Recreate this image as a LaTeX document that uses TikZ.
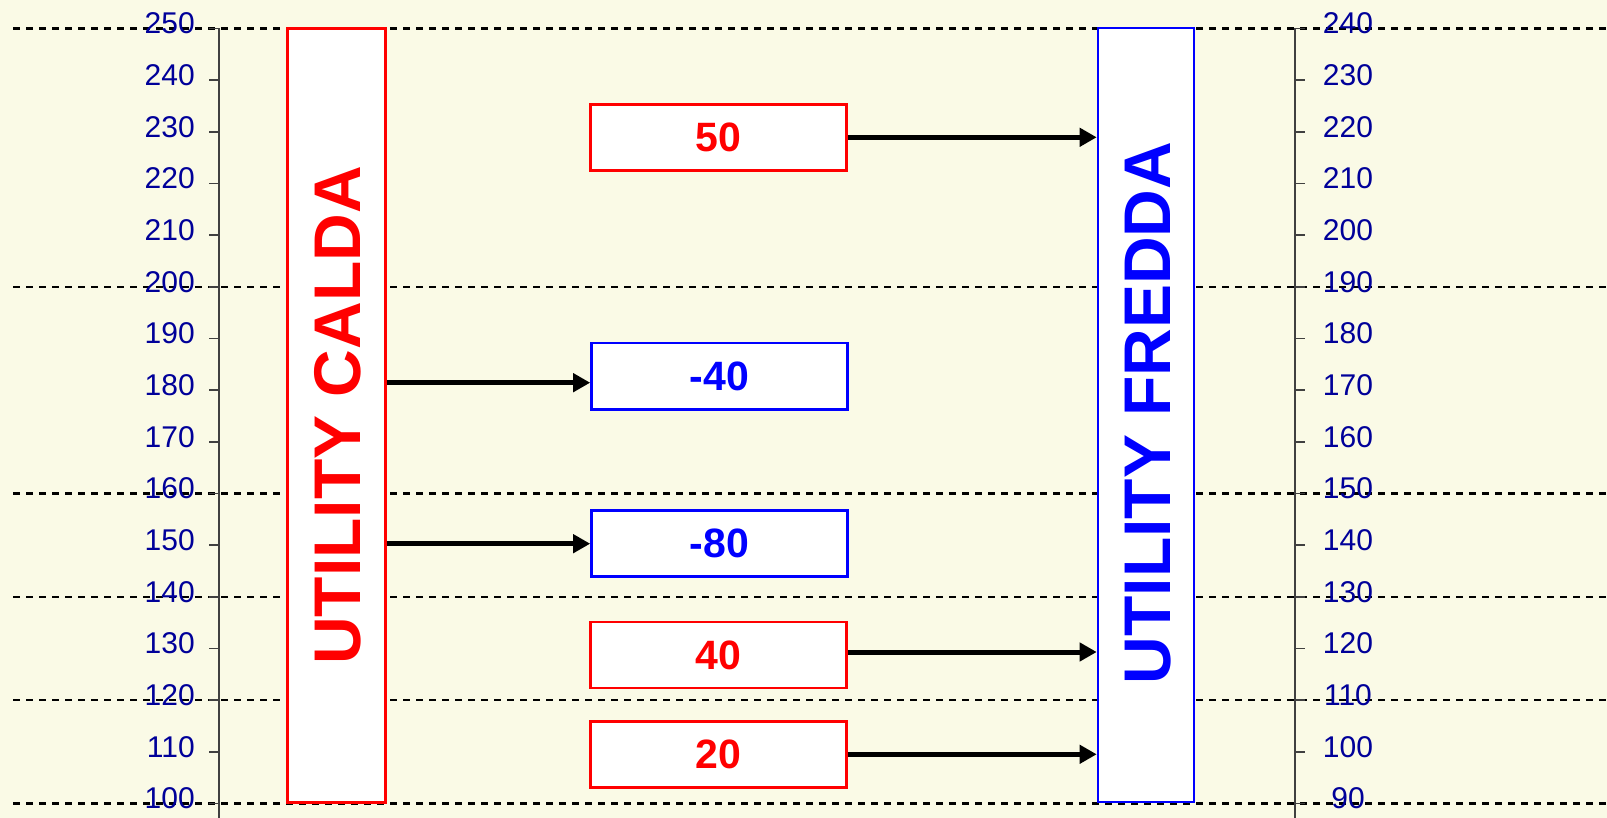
\documentclass[tikz,border=0pt]{standalone}
\usepackage{fontspec}
\setmainfont{Liberation Sans}
\usetikzlibrary{arrows.meta,calc}
\definecolor{bgcol}{RGB}{250,250,230}
\definecolor{axisnum}{RGB}{0,0,153}
\definecolor{hotred}{RGB}{255,0,0}
\definecolor{coldblue}{RGB}{0,0,255}
\begin{document}
\begin{tikzpicture}[x=1pt,y=-1pt,
  level/.style={black, line width=2.4pt, dash pattern=on 7pt off 6pt},
  axisline/.style={draw=black!75, line width=1.8pt},
  ticknum/.style={text=axisnum, font=\fontsize{30}{30}\selectfont, inner sep=0pt},
  utilbox/.style={draw=#1, fill=white, line width=2.6pt, minimum width=98pt, minimum height=774pt, inner sep=0pt},
  utiltext/.style={text=#1, font=\bfseries\fontsize{66}{66}\selectfont, rotate=90, inner sep=0pt},
  heatbox/.style={draw=#1, fill=white, line width=2.6pt, minimum width=256pt, minimum height=66pt, inner sep=0pt, text=#1, font=\bfseries\fontsize{41}{41}\selectfont},
  flow/.style={line width=5pt, -{Triangle[length=17pt,width=18pt]}}
]
% page background
\fill[bgcol] (0,0) rectangle (1607,818);
\useasboundingbox (0,0) rectangle (1607,818);

% temperature levels (dashed)
\foreach \v in {250,200,160,140,120,100} {
  \pgfmathsetmacro\yy{28.5+(250-\v)*5.16667}
  \draw[level] (13,\yy) -- (1607,\yy);
}

% two temperature axes
\draw[axisline] (219,28.5) -- (219,818);
\draw[axisline] (1295,28.5) -- (1295,818);
\foreach \v in {100,110,...,250} {
  \pgfmathsetmacro\yy{28.5+(250-\v)*5.16667}
  \pgfmathtruncatemacro\r{\v-10}
  \draw[axisline] (209,\yy) -- (219,\yy);
  \draw[axisline] (1295,\yy) -- (1305,\yy);
  \node[ticknum, anchor=east] (L\v) at (195,\yy-5) {\v};
  \node[ticknum] (R\r) at (1348,\yy-5) {\r};
}

% utilities
\node[utilbox=hotred] (hot) at (336.2,415.6) {};
\node[utiltext=hotred] (hotlbl) at ([xshift=2pt]hot.center) {UTILITY CALDA};
\node[utilbox=coldblue, minimum width=96pt] (cold) at (1146,415) {};
\node[utiltext=coldblue] (coldlbl) at ([xshift=2pt,yshift=2pt]cold.center) {UTILITY FREDDA};

% heat balances of the intervals
\node[heatbox=hotred] (q50) at (718.5,137.3) {50};
\node[heatbox=coldblue] (qm40) at (719.5,376.2) {-40};
\node[heatbox=coldblue] (qm80) at (719.5,543.7) {-80};
\node[heatbox=hotred] (q40) at (718.5,655) {40};
\node[heatbox=hotred] (q20) at (718.5,754.3) {20};

% heat flows
\draw[flow] (q50.east) -- (q50.east -| cold.west);
\draw[flow] ($(qm40.west -| hot.east)+(0,6.5)$) -- ($(qm40.west)+(0,6.5)$);
\draw[flow] (qm80.west -| hot.east) -- (qm80.west);
\draw[flow] ($(q40.east)+(0,-3)$) -- ($(q40.east -| cold.west)+(0,-3)$);
\draw[flow] (q20.east) -- (q20.east -| cold.west);
\end{tikzpicture}
\end{document}
